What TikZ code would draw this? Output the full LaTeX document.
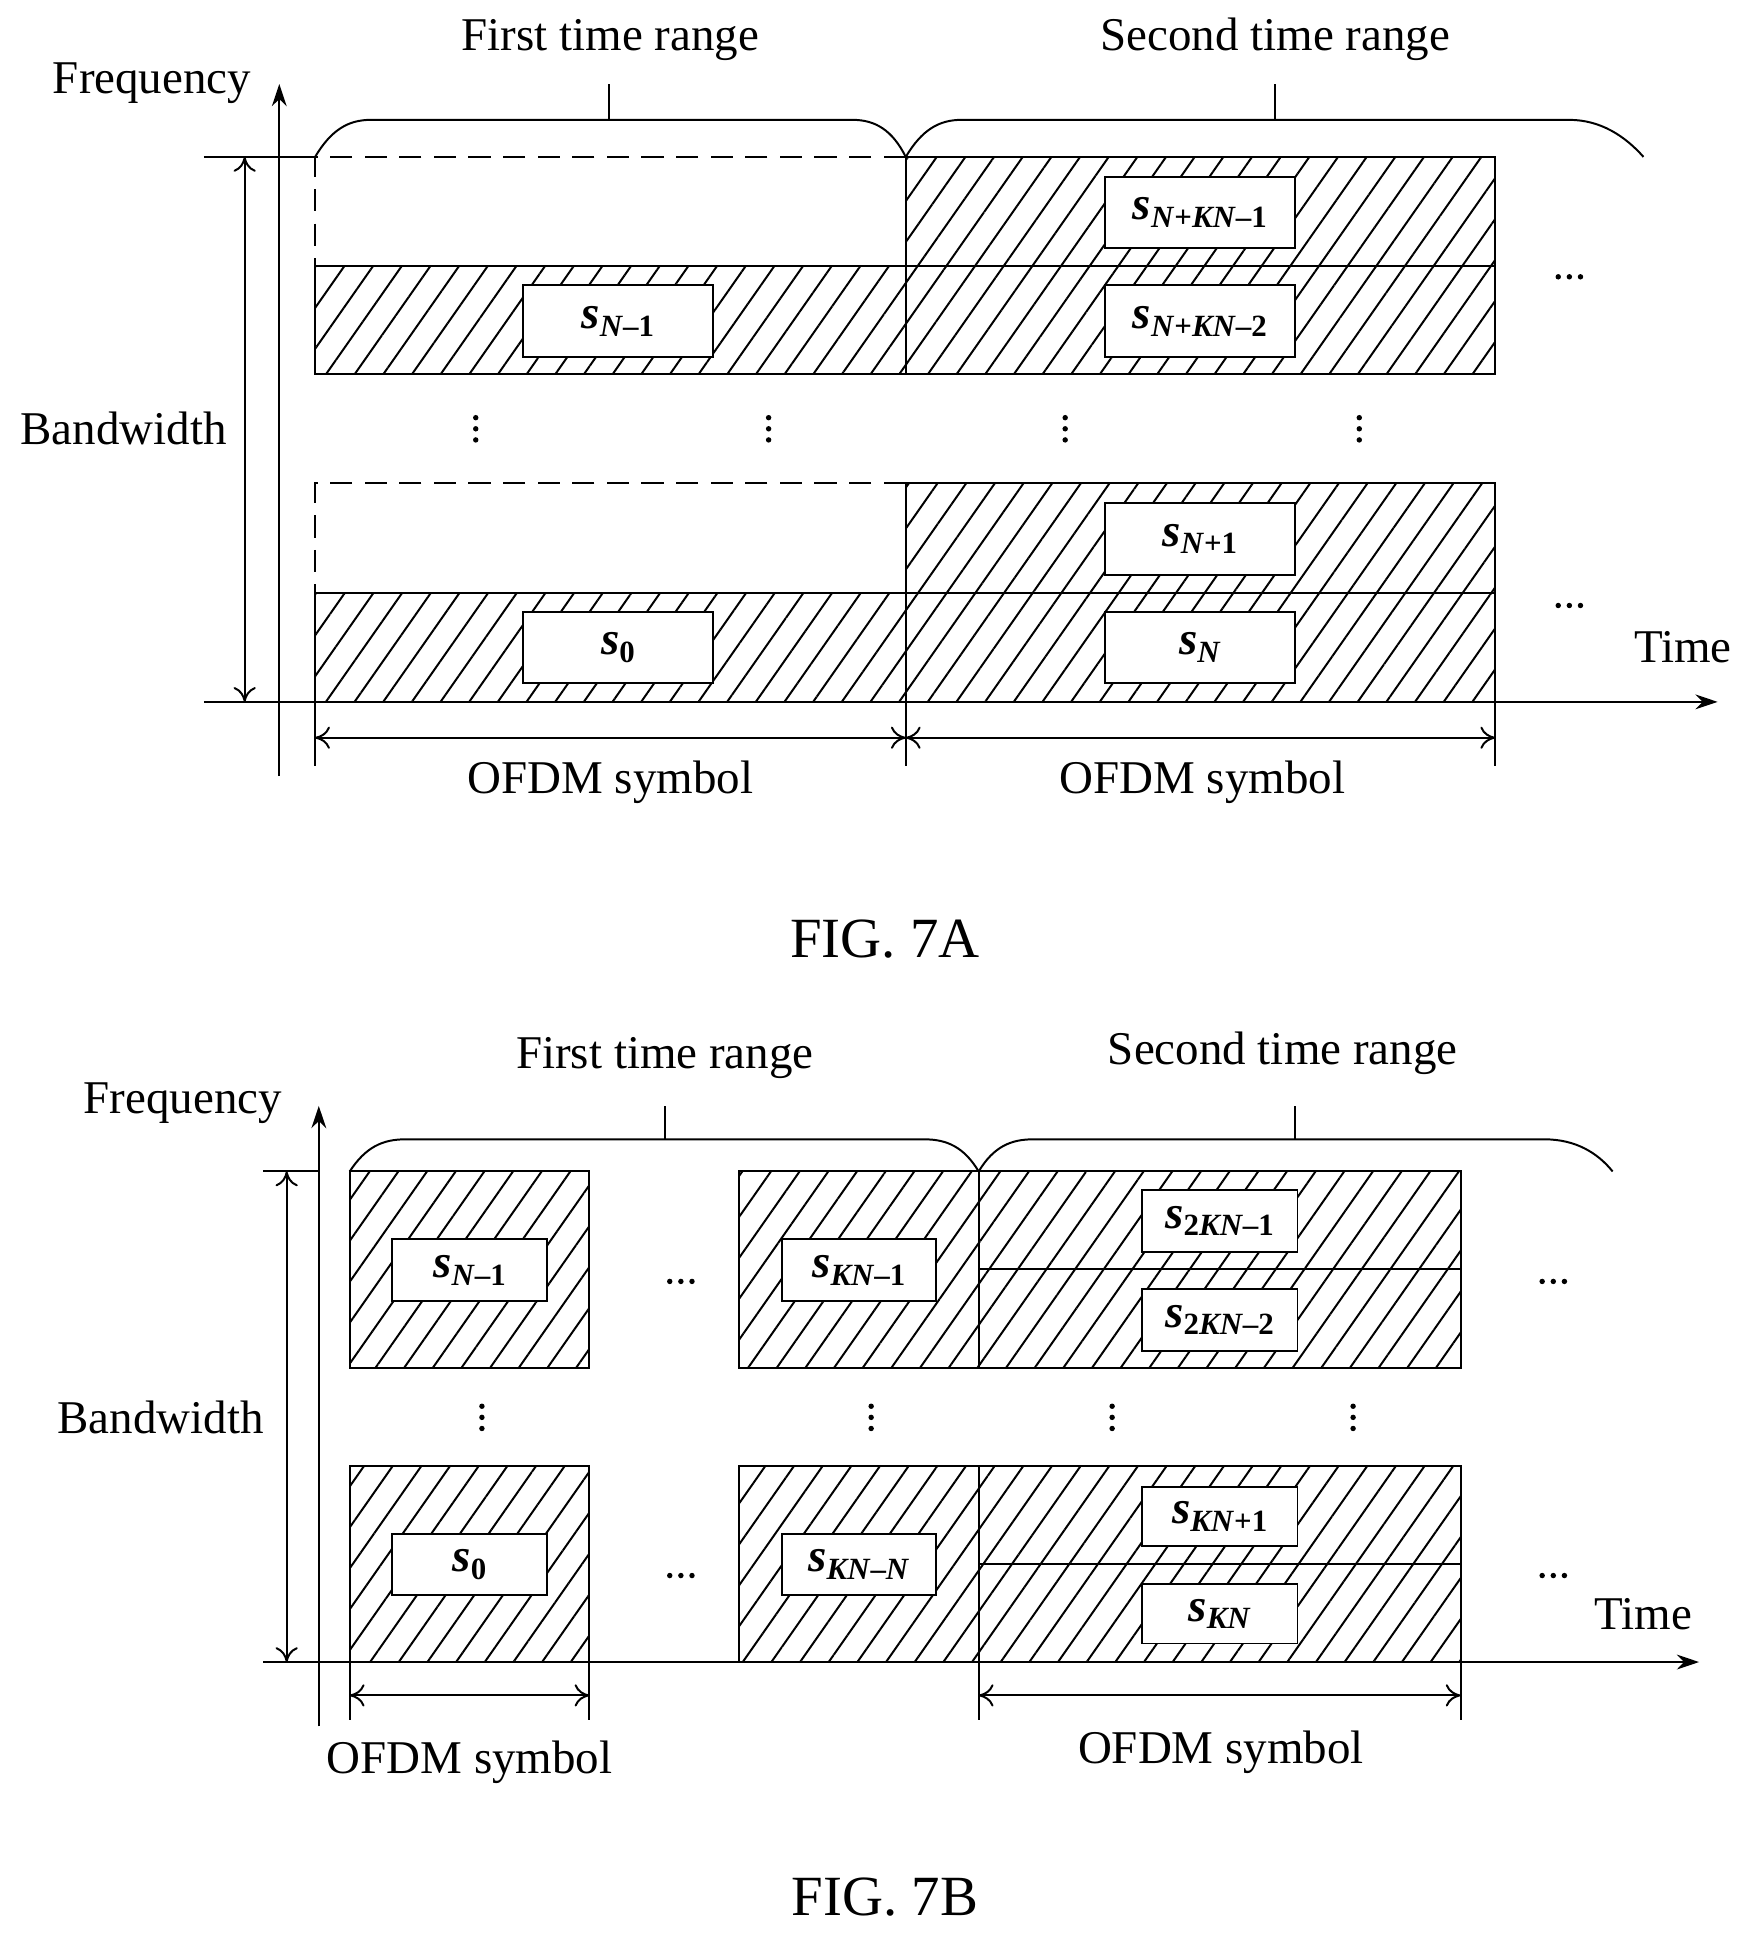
\documentclass[tikz,border=0pt]{standalone}
\usepackage{fontspec}
\setmainfont{Liberation Serif}
\usetikzlibrary{patterns.meta,arrows.meta}
\newcommand{\sy}[1]{{\bfseries\itshape s}\raisebox{-0.35ex}{\fontsize{12.5}{13}\selectfont\bfseries #1}}
\newcommand{\iv}[1]{\textit{#1}}
\begin{document}
\begin{tikzpicture}[x=0.5pt,y=-0.5pt,line width=0.8pt,
  lbl/.style={font=\fontsize{19}{22}\selectfont},
  fig/.style={font=\fontsize{23}{26}\selectfont},
  hat/.style={draw,pattern={Lines[angle=55,distance=9.5pt,line width=0.8pt]}},
  dsh/.style={dash pattern=on 9pt off 5pt},
  sym/.style={draw,fill=white,inner sep=0pt,font=\fontsize{19}{22}\selectfont},
  ax/.style={-{Stealth[length=9pt,width=6pt]}},
  dim/.style={{To[length=6pt,width=9pt]}-{To[length=6pt,width=9pt]}},
  dt/.style={fill,circle,inner sep=0pt,minimum size=2.2pt}]
\newcommand{\vd}[2]{\node[dt] at (#1,#2-9) {}; \node[dt] at (#1,#2) {}; \node[dt] at (#1,#2+9) {};}
\newcommand{\hd}[2]{\node[dt] at (#1-9,#2) {}; \node[dt] at (#1,#2) {}; \node[dt] at (#1+9,#2) {};}
\useasboundingbox (0,0) rectangle (1424,1574);
% ================= FIG 7A
\coordinate (a0) at (226,628); \coordinate (a1) at (226,68);
\draw[ax] (a0) -- (a1);
\coordinate (b0) at (165,568); \coordinate (b1) at (1390,568);
\draw[ax] (b0) -- (b1);
\coordinate (t0) at (165,127); \coordinate (t1) at (255,127);
\draw (t0) -- (t1);
\coordinate (w0) at (198,127); \coordinate (w1) at (198,568);
\draw[dim] (w0) -- (w1);
\node[lbl] (freqA) at (123,67) {Frequency};
\node[lbl] (bwA) at (100,347) {Bandwidth};
\node[lbl] (timeA) at (1362,524) {Time};
\draw[dsh] (733,127) -- (255,127) -- (255,215);
\draw[hat] (255,215) rectangle (733,303);
\draw[hat] (733,127) rectangle (1210,215);
\draw[hat] (733,215) rectangle (1210,303);
\draw[dsh] (733,391) -- (255,391) -- (255,480);
\draw[hat] (255,480) rectangle (733,568);
\draw[hat] (733,391) rectangle (1210,480);
\draw[hat] (733,480) rectangle (1210,568);
\node[sym,minimum width=77pt,minimum height=29pt] (s1) at (500,260) {\sy{\iv{N}–1}};
\node[sym,minimum width=77pt,minimum height=29pt] (s2) at (971,172) {\sy{\iv{N}+\iv{KN}–1}};
\node[sym,minimum width=77pt,minimum height=29pt] (s3) at (971,260) {\sy{\iv{N}+\iv{KN}–2}};
\node[sym,minimum width=77pt,minimum height=29pt] (s4) at (971,436) {\sy{\iv{N}+1}};
\node[sym,minimum width=77pt,minimum height=29pt] (s5) at (971,524) {\sy{\iv{N}}};
\node[sym,minimum width=77pt,minimum height=29pt] (s6) at (500,524) {\sy{0}};
\vd{385}{347} \vd{622}{347} \vd{862}{347} \vd{1100}{347}
\hd{1270}{224} \hd{1270}{490}
\draw (255,127) .. controls (268,105) and (282,97) .. (300,97) -- (690,97) .. controls (708,97) and (722,105) .. (733,127);
\draw (493,97) -- (493,68);
\draw (733,127) .. controls (746,105) and (760,97) .. (778,97) -- (1270,97) .. controls (1295,97) and (1315,110) .. (1330,127);
\draw (1032,97) -- (1032,68);
\node[lbl] (ftA) at (494,32) {First time range};
\node[lbl] (stA) at (1032,32) {Second time range};
\draw (255,568) -- (255,620); \draw (733,568) -- (733,620); \draw (1210,568) -- (1210,620);
\coordinate (o0) at (255,597); \coordinate (o1) at (733,597); \coordinate (o2) at (1210,597);
\draw[dim] (o0) -- (o1); \draw[dim] (o1) -- (o2);
\node[lbl] (ofA1) at (494,633) {OFDM symbol};
\node[lbl] (ofA2) at (973,633) {OFDM symbol};
\node[fig] (figA) at (716,760) {FIG. 7A};
% ================= FIG 7B
\coordinate (c0) at (258,1397); \coordinate (c1) at (258,895);
\draw[ax] (c0) -- (c1);
\coordinate (d0) at (213,1345); \coordinate (d1) at (1375,1345);
\draw[ax] (d0) -- (d1);
\draw (213,948) -- (258,948);
\coordinate (v0) at (232,948); \coordinate (v1) at (232,1345);
\draw[dim] (v0) -- (v1);
\node[lbl] (freqB) at (148,893) {Frequency};
\node[lbl] (bwB) at (130,1147) {Bandwidth};
\node[lbl] (timeB) at (1330,1306) {Time};
\draw[hat] (283,948) rectangle (477,1107);
\draw[hat] (598,948) rectangle (792,1107);
\draw[hat] (283,1186) rectangle (477,1345);
\draw[hat] (598,1186) rectangle (792,1345);
\draw[hat] (792,948) rectangle (1182,1027);
\draw[hat] (792,1027) rectangle (1182,1107);
\draw[hat] (792,1186) rectangle (1182,1266);
\draw[hat] (792,1266) rectangle (1182,1345);
\node[sym,minimum width=62.5pt,minimum height=25pt] (b1) at (380,1028) {\sy{\iv{N}–1}};
\node[sym,minimum width=62.5pt,minimum height=25pt] (b2) at (380,1266) {\sy{0}};
\node[sym,minimum width=62.5pt,minimum height=25pt] (b3) at (695,1028) {\sy{\iv{KN}–1}};
\node[sym,minimum width=62.5pt,minimum height=25pt] (b4) at (695,1266) {\sy{\iv{KN}–\iv{N}}};
\node[sym,minimum width=63pt,minimum height=25pt] (b5) at (987,988) {\sy{2\iv{KN}–1}};
\node[sym,minimum width=63pt,minimum height=25pt] (b6) at (987,1068) {\sy{2\iv{KN}–2}};
\node[sym,minimum width=63pt,minimum height=24pt] (b7) at (987,1227) {\sy{\iv{KN}+1}};
\node[sym,minimum width=63pt,minimum height=24pt] (b8) at (987,1306) {\sy{\iv{KN}}};
\vd{390}{1147} \vd{705}{1147} \vd{900}{1147} \vd{1095}{1147}
\hd{551}{1037} \hd{551}{1275} \hd{1257}{1037} \hd{1257}{1275}
\draw (283,948) .. controls (296,928) and (310,922) .. (328,922) -- (748,922) .. controls (766,922) and (780,928) .. (792,948);
\draw (538,922) -- (538,895);
\draw (792,948) .. controls (804,928) and (818,922) .. (836,922) -- (1250,922) .. controls (1275,922) and (1293,933) .. (1305,948);
\draw (1048,922) -- (1048,895);
\node[lbl] (ftB) at (538,856) {First time range};
\node[lbl] (stB) at (1038,852) {Second time range};
\draw (283,1345) -- (283,1392); \draw (477,1345) -- (477,1392);
\draw (792,1345) -- (792,1392); \draw (1182,1345) -- (1182,1392);
\coordinate (p0) at (283,1372); \coordinate (p1) at (477,1372);
\coordinate (p2) at (792,1372); \coordinate (p3) at (1182,1372);
\draw[dim] (p0) -- (p1); \draw[dim] (p2) -- (p3);
\node[lbl] (ofB1) at (380,1426) {OFDM symbol};
\node[lbl] (ofB2) at (988,1418) {OFDM symbol};
\node[fig] (figB) at (716,1535) {FIG. 7B};
\end{tikzpicture}
\end{document}
